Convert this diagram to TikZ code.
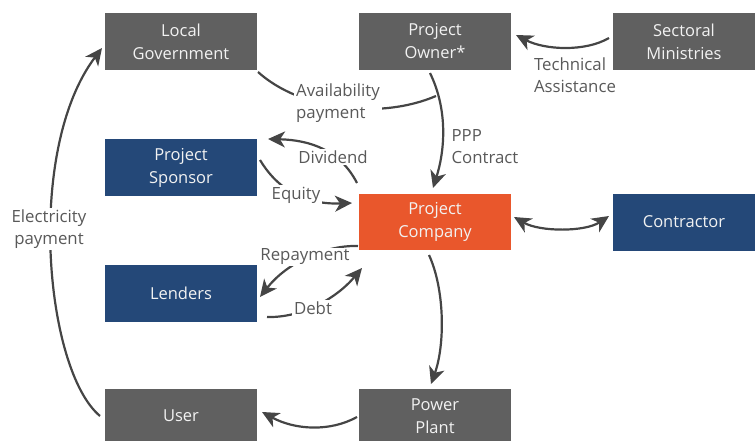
\documentclass[tikz,border=0pt]{standalone}
\usepackage{fontspec}
\setmainfont{Open Sans}
\usetikzlibrary{arrows.meta}
\definecolor{boxgray}{HTML}{606060}
\definecolor{boxblue}{HTML}{244878}
\definecolor{boxorange}{HTML}{E9572C}
\definecolor{arrowgray}{HTML}{454545}
\definecolor{labelgray}{HTML}{595959}
\definecolor{boxtext}{HTML}{F2F2F2}
\begin{document}
\begin{tikzpicture}[x=1pt,y=-1pt,
  box/.style={rectangle, minimum width=152pt, minimum height=57pt, inner sep=0pt,
    text=boxtext, align=center, font=\fontsize{16.5}{23}\selectfont},
  graybox/.style={box, fill=boxgray},
  bluebox/.style={box, fill=boxblue},
  orangebox/.style={box, fill=boxorange},
  lbl/.style={text=labelgray, align=left, inner sep=1pt, font=\fontsize{16.8}{22}\selectfont},
  cutlbl/.style={lbl, fill=white, inner sep=2pt},
  conn/.style={draw=arrowgray, line width=2.2pt},
  arr/.style={conn, -{Stealth[length=17pt,width=16pt,inset=5pt]}},
  darr/.style={conn, {Stealth[length=17pt,width=16pt,inset=5pt]}-{Stealth[length=17pt,width=16pt,inset=5pt]}}
]
\useasboundingbox (0,0) rectangle (755,441);

% boxes
\node[graybox] (lg) at (181,41.5) {Local\\Government};
\node[graybox] (po) at (435,41.5) {Project\\Owner*};
\node[graybox, minimum width=142pt] (sm) at (684,41.5) {Sectoral\\Ministries};
\node[bluebox] (ps) at (181,167.5) {Project\\Sponsor};
\node[orangebox, minimum height=56pt] (pc) at (435,222) {Project\\Company};
\node[bluebox, minimum width=142pt] (ct) at (684,222) {Contractor};
\node[bluebox] (le) at (181,293.5) {Lenders};
\node[graybox, minimum height=54pt] (us) at (181,416) {User};
\node[graybox, minimum height=54pt] (pp) at (435,416) {Power\\Plant};

% connector end points
\coordinate (elS) at (100,416);
\coordinate (elE) at (102,48);
\coordinate (avS) at (258,72);
\coordinate (avE) at (436,96);
\coordinate (ppS) at (430,73);
\coordinate (ppE) at (433,188);
\coordinate (taS) at (609,38);
\coordinate (taE) at (516,35);
\coordinate (dvS) at (357,183);
\coordinate (dvE) at (268,139);
\coordinate (eqS) at (260,160);
\coordinate (eqE) at (352,203);
\coordinate (rpS) at (358,246);
\coordinate (rpE) at (260,297);
\coordinate (dbS) at (267,317);
\coordinate (dbE) at (362,268);
\coordinate (plS) at (429,255);
\coordinate (plE) at (431,384);
\coordinate (usS) at (357,417);
\coordinate (usE) at (262,412);
\coordinate (ctS) at (514,217);
\coordinate (ctE) at (609,216);

% connectors
\draw[arr] (elS) .. controls (45,370) and (25,150) .. (elE);
\draw[conn] (avS) .. controls (300,110) and (380,120) .. (avE);
\draw[arr] (ppS) .. controls (448,110) and (445,150) .. (ppE);
\draw[arr] (taS) .. controls (585,52) and (545,50) .. (taE);
\draw[arr] (dvS) .. controls (340,150) and (310,140) .. (dvE);
\draw[arr] (eqS) .. controls (275,185) and (300,205) .. (eqE);
\draw[arr] (rpS) .. controls (322,245) and (285,265) .. (rpE);
\draw[arr] (dbS) .. controls (300,318) and (335,300) .. (dbE);
\draw[arr] (plS) .. controls (445,290) and (445,345) .. (plE);
\draw[arr] (usS) .. controls (330,432) and (295,430) .. (usE);
\draw[darr] (ctS) .. controls (540,232) and (585,232) .. (ctE);

% labels
\node[cutlbl, align=center] (elL) at (49,229) {Electricity\\payment};
\node[cutlbl] (avL) at (338,103) {Availability\\payment};
\node[lbl] (ppL) at (485,147) {PPP\\Contract};
\node[lbl] (taL) at (575,75) {Technical\\Assistance};
\node[cutlbl] (dvL) at (333,157) {Dividend};
\node[cutlbl] (eqL) at (296,195) {Equity};
\node[cutlbl, inner sep=1pt] (rpL) at (305,257) {Repayment};
\node[cutlbl] (dbL) at (313,308) {Debt};
\end{tikzpicture}
\end{document}
